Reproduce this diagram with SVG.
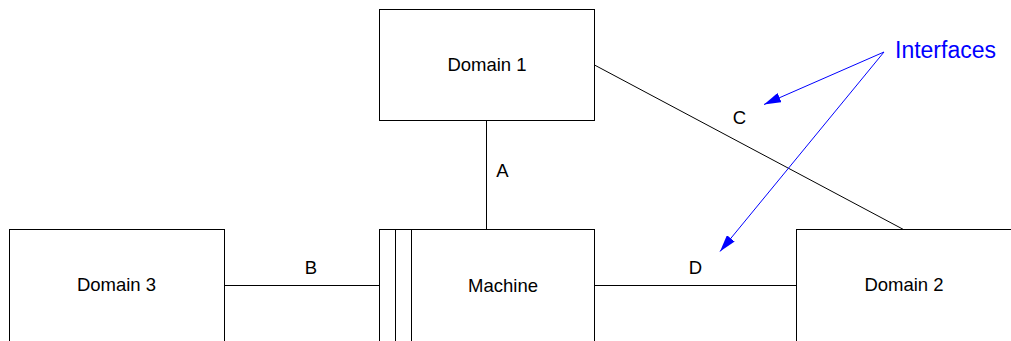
<svg xmlns="http://www.w3.org/2000/svg" width="1011" height="341" viewBox="0 0 1011 341">
  <style>
    .box { fill: #ffffff; stroke: #000000; stroke-width: 1; }
    .edge { stroke: #000000; stroke-width: 1; fill: none; }
    .pointer { stroke: #0000ff; stroke-width: 1; fill: none; }
    .label { font-family: "Liberation Sans", Arial, sans-serif; font-size: 18.5px; fill: #000000; text-anchor: middle; }
    .note { font-family: "Liberation Sans", Arial, sans-serif; font-size: 23px; fill: #0000ff; }
  </style>
  <defs>
    <marker id="blueArrow" markerWidth="18" markerHeight="10" refX="17" refY="5" orient="auto" markerUnits="userSpaceOnUse">
      <path d="M0,0 L17,5 L0,10 Z" fill="#0000ff"/>
    </marker>
  </defs>

  <rect width="1011" height="341" fill="#ffffff"/>

  <g id="connectors">
    <line class="edge" x1="486.5" y1="120.5" x2="486.5" y2="229.5"/>
    <line class="edge" x1="224.5" y1="285.5" x2="379.5" y2="285.5"/>
    <line class="edge" x1="594.5" y1="285.5" x2="796.5" y2="285.5"/>
    <line class="edge" x1="594.5" y1="65" x2="903.5" y2="229.5"/>
    <text class="label" x="502.5" y="177">A</text>
    <text class="label" x="311" y="273.5">B</text>
    <text class="label" x="739.5" y="124">C</text>
    <text class="label" x="695.5" y="273.5">D</text>
  </g>

  <g id="domain1">
    <rect class="box" x="379.5" y="9.5" width="215" height="111"/>
    <text class="label" x="487" y="70.5">Domain 1</text>
  </g>

  <g id="domain3">
    <rect class="box" x="9.5" y="229.5" width="215" height="130"/>
    <text class="label" x="116.5" y="291">Domain 3</text>
  </g>

  <g id="machine">
    <rect class="box" x="379.5" y="229.5" width="215" height="130"/>
    <line class="edge" x1="395.5" y1="229.5" x2="395.5" y2="341"/>
    <line class="edge" x1="411.5" y1="229.5" x2="411.5" y2="341"/>
    <text class="label" x="503" y="291.5">Machine</text>
  </g>

  <g id="domain2">
    <rect class="box" x="796.5" y="229.5" width="230" height="130"/>
    <text class="label" x="904" y="291">Domain 2</text>
  </g>

  <g id="interfaces">
    <line class="pointer" x1="884" y1="52" x2="764" y2="104.5" marker-end="url(#blueArrow)"/>
    <line class="pointer" x1="884" y1="52" x2="720" y2="251.5" marker-end="url(#blueArrow)"/>
    <text class="note" x="895" y="58">Interfaces</text>
  </g>
</svg>
